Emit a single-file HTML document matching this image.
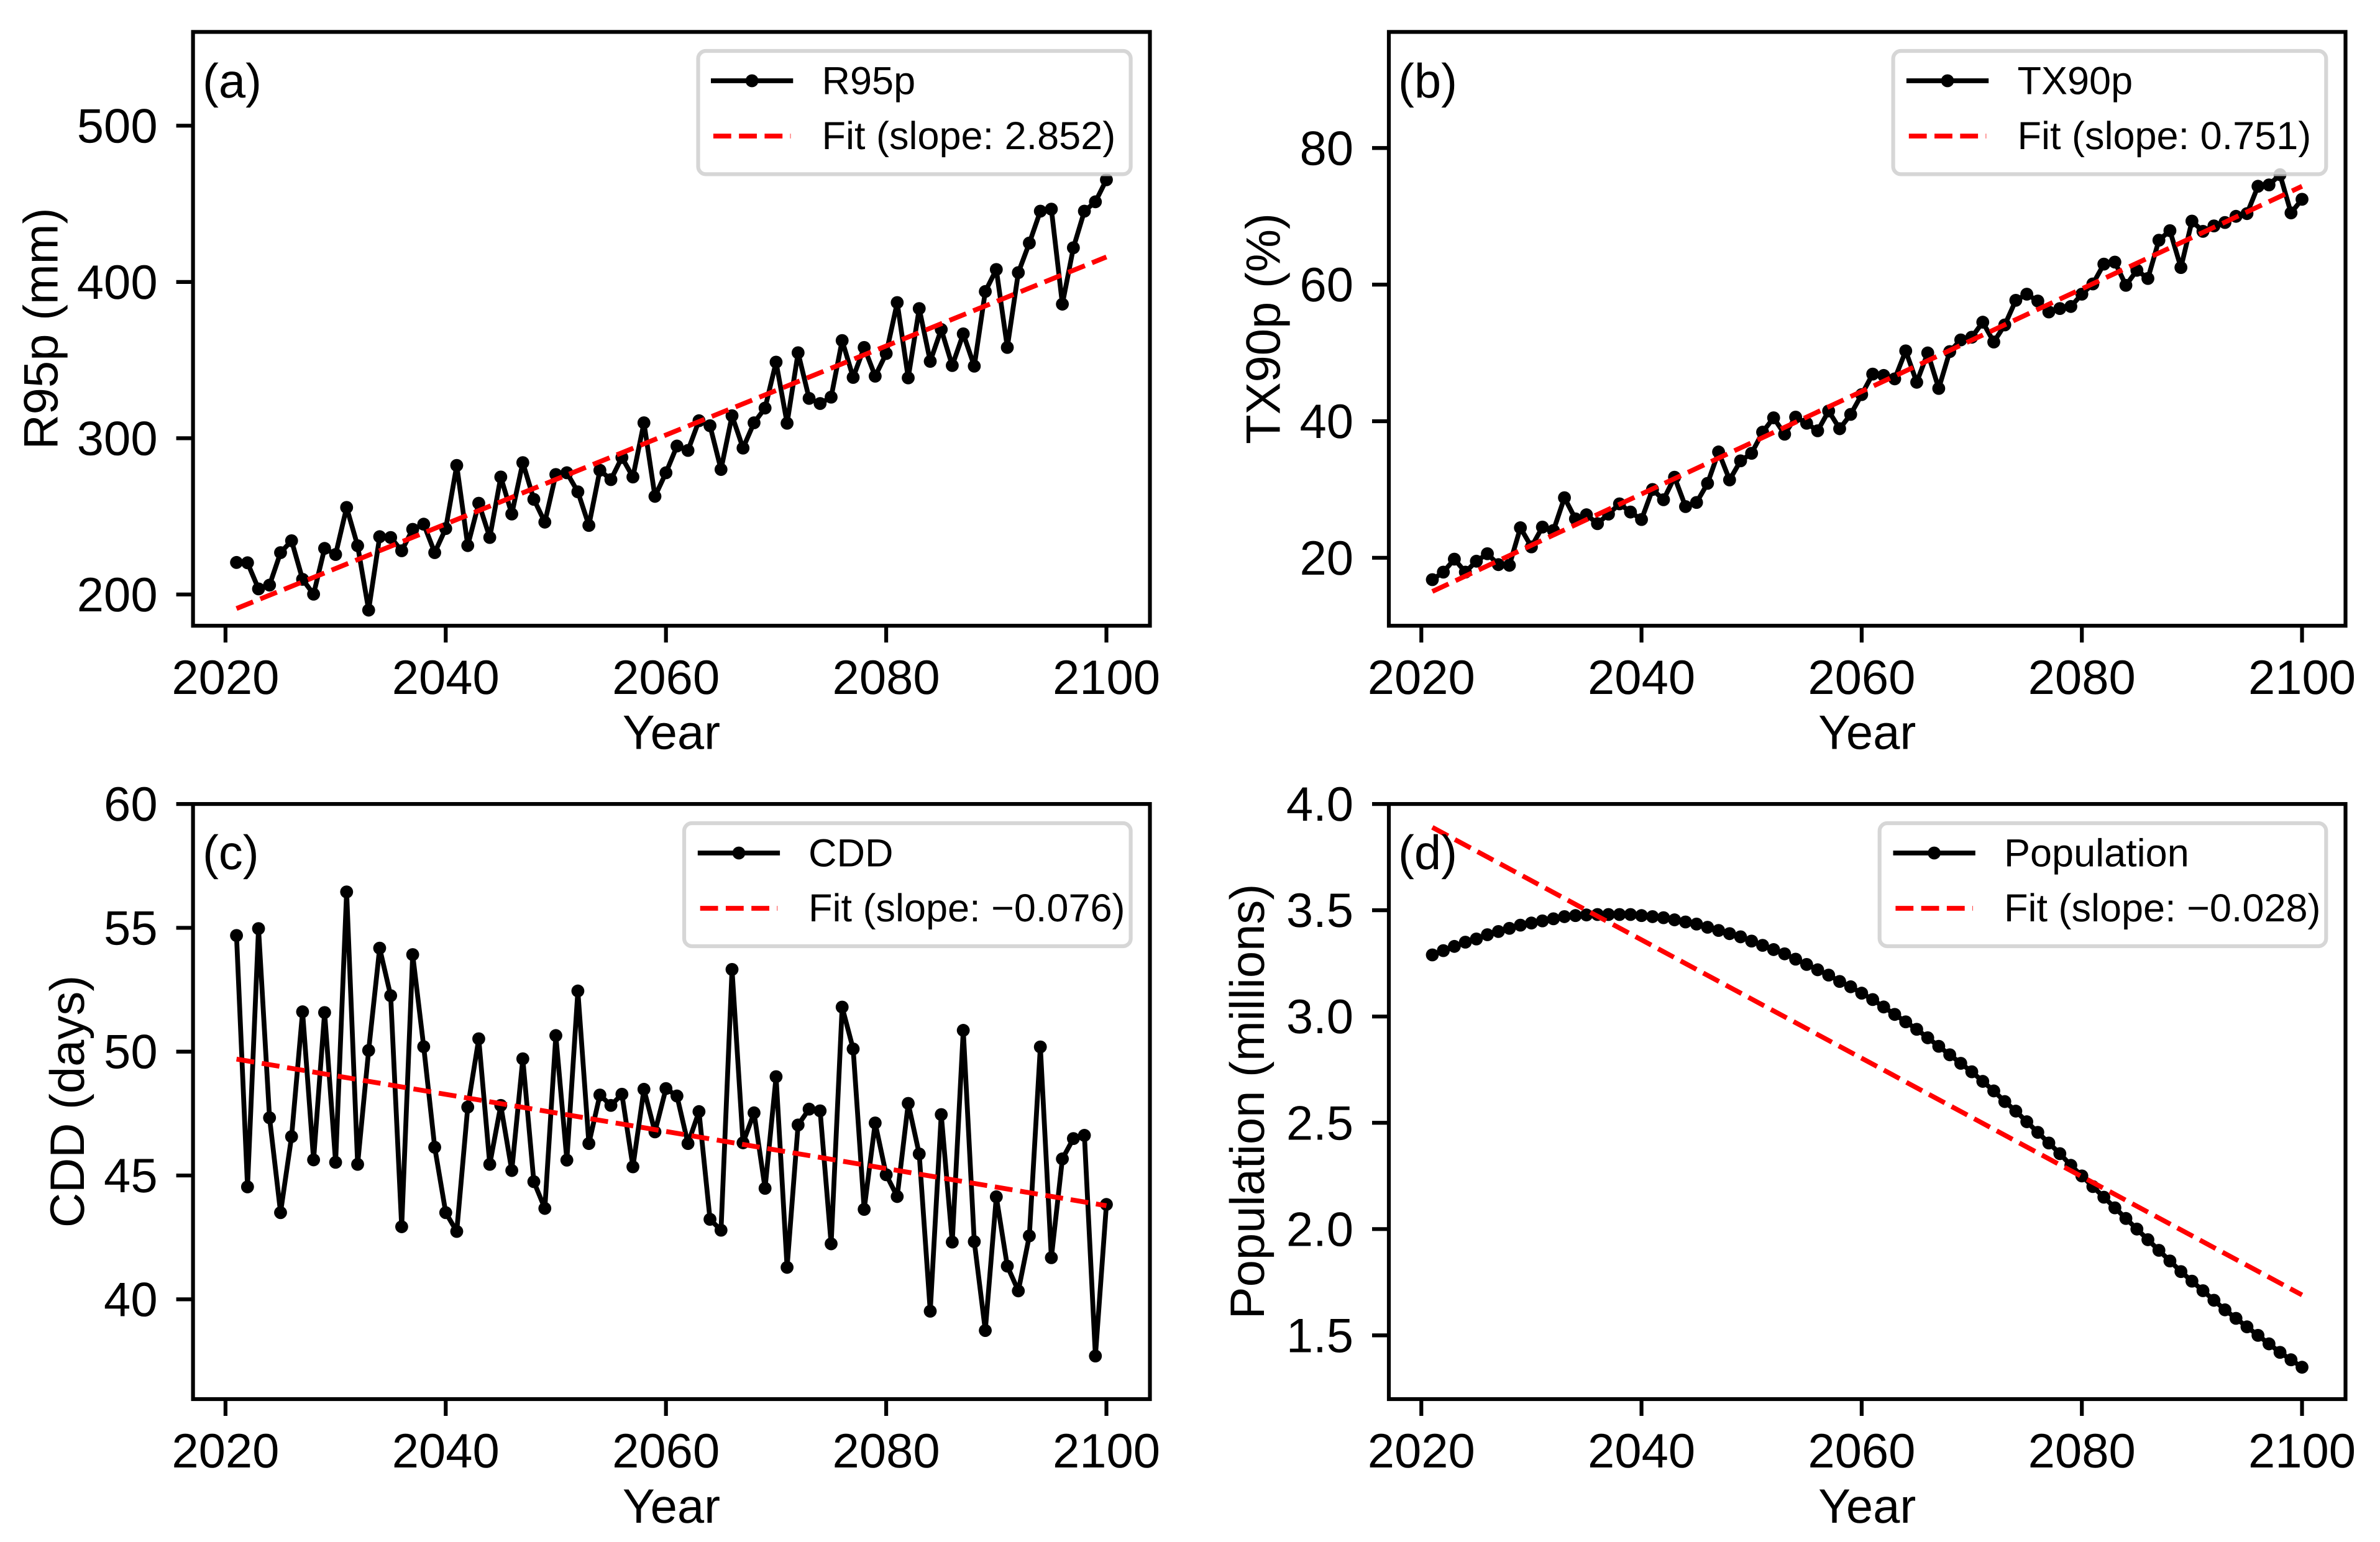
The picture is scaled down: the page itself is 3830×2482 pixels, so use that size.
<!DOCTYPE html>
<html lang="en">
<head>
<meta charset="utf-8">
<title>Climate indices and population projections</title>
<style>
html,body{margin:0;padding:0;background:#fff;width:3830px;height:2482px;overflow:hidden}
svg{display:block}
text{font-family:"Liberation Sans",Arial,sans-serif;fill:#000;text-rendering:geometricPrecision}
.lbl{font-size:77.8px}
.leg{font-size:63px}
.frame{fill:none;stroke:#000;stroke-width:6.2;stroke-linejoin:miter}
.legbox{fill:rgba(255,255,255,.8);stroke:rgba(204,204,204,.8);stroke-width:6.2}
.sline{stroke:#000;stroke-width:7.78;fill:none;stroke-linecap:square}
.fline{stroke:#f00;stroke-width:7.78;fill:none;stroke-dasharray:28.8 12.45}
</style>
</head>
<body>
<svg xmlns="http://www.w3.org/2000/svg" width="3830" height="2482" viewBox="0 0 3830 2482">
<rect width="3830" height="2482" fill="#fff"/>

<g id="panel-a">
  <g id="marks-a"></g>
  <rect class="frame" x="310.6" y="51.4" width="1539.9" height="955.8"/>
  <g id="ticks-a"></g>
  <text class="lbl" x="326" y="157">(a)</text>
  <text class="lbl" x="1080.5" y="1205.5" text-anchor="middle">Year</text>
  <text class="lbl" transform="translate(92.5 529) rotate(-90)" text-anchor="middle">R95p (mm)</text>
  <g>
    <rect class="legbox" x="1123.5" y="82" width="696.1" height="198.4" rx="12.4"/>
    <line class="sline" x1="1147.9" y1="130" x2="1272.4" y2="130"/>
    <circle cx="1210.1" cy="130" r="10.4"/>
    <line class="fline" x1="1147.9" y1="219" x2="1272.4" y2="219"/>
    <text class="leg" x="1322.5" y="151.4">R95p</text>
    <text class="leg" x="1322.5" y="240">Fit (slope: 2.852)</text>
  </g>
</g>

<g id="panel-b">
  <g id="marks-b"></g>
  <rect class="frame" x="2235" y="51.4" width="1539.5" height="955.8"/>
  <g id="ticks-b"></g>
  <text class="lbl" x="2250" y="157">(b)</text>
  <text class="lbl" x="3004.7" y="1205.5" text-anchor="middle">Year</text>
  <text class="lbl" transform="translate(2059.7 529) rotate(-90)" text-anchor="middle">TX90p (%)</text>
  <g>
    <rect class="legbox" x="3046.6" y="82" width="696.7" height="198.4" rx="12.4"/>
    <line class="sline" x1="3071.8" y1="130" x2="3196.3" y2="130"/>
    <circle cx="3134" cy="130" r="10.4"/>
    <line class="fline" x1="3071.8" y1="219" x2="3196.3" y2="219"/>
    <text class="leg" x="3246.5" y="151.4">TX90p</text>
    <text class="leg" x="3246.5" y="240">Fit (slope: 0.751)</text>
  </g>
</g>

<g id="panel-c">
  <g id="marks-c"></g>
  <rect class="frame" x="310.6" y="1294.1" width="1539.9" height="957.9"/>
  <g id="ticks-c"></g>
  <text class="lbl" x="326" y="1399">(c)</text>
  <text class="lbl" x="1080.5" y="2451" text-anchor="middle">Year</text>
  <text class="lbl" transform="translate(135 1773) rotate(-90)" text-anchor="middle">CDD (days)</text>
  <g>
    <rect class="legbox" x="1101" y="1325" width="718.6" height="198" rx="12.4"/>
    <line class="sline" x1="1126.7" y1="1373" x2="1251.2" y2="1373"/>
    <circle cx="1189" cy="1373" r="10.4"/>
    <line class="fline" x1="1126.7" y1="1462" x2="1251.2" y2="1462"/>
    <text class="leg" x="1301" y="1394.4">CDD</text>
    <text class="leg" x="1301" y="1483">Fit (slope: −0.076)</text>
  </g>
</g>

<g id="panel-d">
  <g id="marks-d"></g>
  <rect class="frame" x="2235" y="1294.1" width="1539.5" height="957.9"/>
  <g id="ticks-d"></g>
  <text class="lbl" x="2250" y="1399">(d)</text>
  <text class="lbl" x="3004.7" y="2451" text-anchor="middle">Year</text>
  <text class="lbl" transform="translate(2034 1773) rotate(-90)" text-anchor="middle">Population (millions)</text>
  <g>
    <rect class="legbox" x="3024.7" y="1325" width="718.6" height="198" rx="12.4"/>
    <line class="sline" x1="3050.4" y1="1373" x2="3174.9" y2="1373"/>
    <circle cx="3112.6" cy="1373" r="10.4"/>
    <line class="fline" x1="3050.4" y1="1462" x2="3174.9" y2="1462"/>
    <text class="leg" x="3225" y="1394.4">Population</text>
    <text class="leg" x="3225" y="1483">Fit (slope: −0.028)</text>
  </g>
</g>
</svg>

<script>
const years = [2021,2022,2023,2024,2025,2026,2027,2028,2029,2030,2031,2032,2033,2034,2035,2036,2037,2038,2039,2040,
2041,2042,2043,2044,2045,2046,2047,2048,2049,2050,2051,2052,2053,2054,2055,2056,2057,2058,2059,2060,
2061,2062,2063,2064,2065,2066,2067,2068,2069,2070,2071,2072,2073,2074,2075,2076,2077,2078,2079,2080,
2081,2082,2083,2084,2085,2086,2087,2088,2089,2090,2091,2092,2093,2094,2095,2096,2097,2098,2099,2100];

const r95p = [220.5,220.3,203.6,206,226.8,234.4,209.7,200.2,229.5,225.6,255.7,231.2,190,237,236.5,228,241.7,245,226.8,242.2,
282.6,231.3,258.4,236.5,275.2,251.5,284.4,260.9,246.3,276.8,277.9,265.7,244.2,279.5,273.5,287.7,275.2,309.9,262.8,277.9,
295,292.2,311.2,308,280,314.4,293.7,309.9,319.3,348.7,309.6,354.7,325.5,322.2,326.3,362.5,338.9,358.1,339.7,354.2,
386.8,338.6,383,349.2,369.6,346.5,366.8,346.1,393.9,408,358.1,406,424.9,445.3,446.6,385.8,421.9,445.3,451.3,465.4];

const tx90p = [16.8,17.9,19.8,17.9,19.5,20.6,19,18.9,24.4,21.6,24.5,24,28.8,25.7,26.3,25,26.4,27.9,26.7,25.6,
30,28.5,31.8,27.5,28.1,30.9,35.5,31.4,34.2,35.3,38.4,40.5,38.1,40.6,39.7,38.6,41.5,38.9,41,43.9,
46.9,46.7,46.2,50.3,45.7,50,44.8,50.2,51.9,52.3,54.5,51.6,54.1,57.7,58.6,57.6,56,56.5,56.8,58.6,
60.1,63,63.3,59.9,62.1,60.9,66.5,67.9,62.5,69.3,67.8,68.6,69.1,70,70.4,74.4,74.6,76.1,70.5,72.5];

const cdd = [54.69,44.54,54.97,47.33,43.5,46.57,51.61,45.63,51.58,45.53,56.45,45.45,50.05,54.18,52.26,42.93,53.92,50.2,46.14,43.5,
42.74,47.76,50.52,45.45,47.83,45.2,49.71,44.75,43.67,50.65,45.62,52.45,46.29,48.25,47.83,48.28,45.35,48.48,46.76,48.51,
48.21,46.29,47.58,43.23,42.79,53.32,46.32,47.53,44.48,48.99,41.29,47.04,47.68,47.61,42.24,51.8,50.11,43.63,47.12,45.03,
44.15,47.91,45.87,39.52,47.46,42.31,50.86,42.33,38.74,44.14,41.34,40.34,42.56,50.19,41.68,45.67,46.49,46.62,37.71,43.83];

const population = [3.29,3.31,3.33,3.35,3.365,3.385,3.4,3.415,3.43,3.44,3.45,3.46,3.47,3.475,3.478,3.48,3.48,3.48,3.48,3.475,
3.47,3.465,3.455,3.445,3.435,3.42,3.405,3.39,3.375,3.355,3.335,3.315,3.295,3.27,3.245,3.22,3.195,3.165,3.14,3.11,
3.08,3.045,3.01,2.975,2.94,2.9,2.86,2.82,2.78,2.74,2.695,2.65,2.6,2.555,2.505,2.455,2.405,2.355,2.3,2.25,
2.2,2.15,2.1,2.05,2,1.95,1.9,1.85,1.8,1.755,1.71,1.665,1.62,1.58,1.54,1.5,1.46,1.42,1.385,1.35];

const fitYears = [2021,2100];
const fitR95p = [191,416];
const fitTx90p = [15.07,74.4];
const fitCdd = [49.7,43.78];
const fitPopulation = [3.89,1.69];

const xTicks = [2020,2040,2060,2080,2100];
const xTickLabels = ['2020','2040','2060','2080','2100'];
const yTicksA = [200,300,400,500];
const yTickLabelsA = ['200','300','400','500'];
const yTicksB = [20,40,60,80];
const yTickLabelsB = ['20','40','60','80'];
const yTicksC = [40,45,50,55,60];
const yTickLabelsC = ['40','45','50','55','60'];
const yTicksD = [1.5,2,2.5,3,3.5,4];
const yTickLabelsD = ['1.5','2.0','2.5','3.0','3.5','4.0'];

const xLimits = [2017.05,2103.95];
const yLimitsA = [180,560];
const yLimitsB = [10.05,97];
const yLimitsC = [35.97,60];
const yLimitsD = [1.2,4];

const SVG_NS = 'http://www.w3.org/2000/svg';
function make(tag, attrs, parent){
  const node = document.createElementNS(SVG_NS, tag);
  for (const k in attrs) node.setAttribute(k, attrs[k]);
  parent.appendChild(node);
  return node;
}
function linear(d0, d1, r0, r1){
  return function(v){ return r0 + (v - d0) / (d1 - d0) * (r1 - r0); };
}
function drawPanel(id, box, series, fit, yLimits, yTicks, yTickLabels){
  const sx = linear(xLimits[0], xLimits[1], box.left, box.right);
  const sy = linear(yLimits[0], yLimits[1], box.bottom, box.top);
  const marks = document.getElementById('marks-' + id);
  const ticks = document.getElementById('ticks-' + id);

  const seriesPath = make('path', {
    d: series.map(function(v, i){ return (i ? 'L' : 'M') + sx(years[i]).toFixed(2) + ' ' + sy(v).toFixed(2); }).join(' '),
    fill: 'none', stroke: '#000', 'stroke-width': 7.78, 'stroke-linejoin': 'round', 'stroke-linecap': 'square'
  }, marks);
  
  

  series.forEach(function(v, i){
    const dot = make('circle', { cx: sx(years[i]).toFixed(2), cy: sy(v).toFixed(2), r: 10.4, fill: '#000' }, marks);
    
    
  });

  const fitLine = make('line', {
    x1: sx(fitYears[0]).toFixed(2), y1: sy(fit[0]).toFixed(2),
    x2: sx(fitYears[1]).toFixed(2), y2: sy(fit[1]).toFixed(2),
    class: 'fline'
  }, marks);
  
  

  xTicks.forEach(function(t, i){
    const mark = make('line', { x1: sx(t), x2: sx(t), y1: box.bottom, y2: box.bottom + 27, stroke: '#000', 'stroke-width': 6.2 }, ticks);
    
    
    const label = make('text', { x: sx(t), y: box.bottom + 110, 'text-anchor': 'middle', class: 'lbl' }, ticks);
    
    
    label.textContent = xTickLabels[i];
  });

  yTicks.forEach(function(t, i){
    const mark = make('line', { x1: box.left - 27, x2: box.left, y1: sy(t), y2: sy(t), stroke: '#000', 'stroke-width': 6.2 }, ticks);
    
    
    const label = make('text', { x: box.left - 57, y: sy(t) + 27, 'text-anchor': 'end', class: 'lbl' }, ticks);
    
    
    label.textContent = yTickLabels[i];
  });
}

drawPanel('a', {left:310.6, right:1850.5, top:51.4, bottom:1007.2}, r95p, fitR95p, yLimitsA, yTicksA, yTickLabelsA);
drawPanel('b', {left:2235, right:3774.5, top:51.4, bottom:1007.2}, tx90p, fitTx90p, yLimitsB, yTicksB, yTickLabelsB);
drawPanel('c', {left:310.6, right:1850.5, top:1294.1, bottom:2252}, cdd, fitCdd, yLimitsC, yTicksC, yTickLabelsC);
drawPanel('d', {left:2235, right:3774.5, top:1294.1, bottom:2252}, population, fitPopulation, yLimitsD, yTicksD, yTickLabelsD);
</script>
</body>
</html>
